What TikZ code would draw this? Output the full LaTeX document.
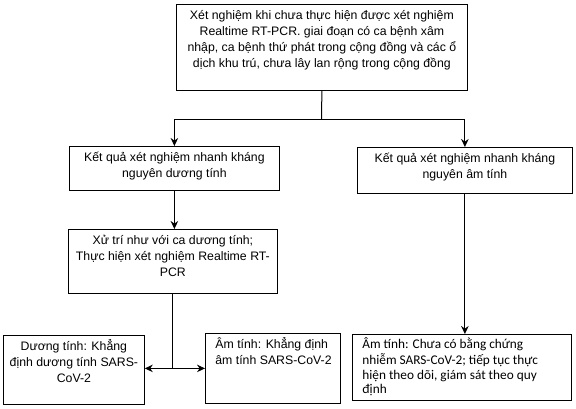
\documentclass[tikz,border=0pt]{standalone}
\usepackage{fontspec}
\setmainfont{Liberation Sans}
\newfontfamily\calfont{Carlito}
\usetikzlibrary{arrows.meta}
\newcommand{\cbox}[3]{\parbox[t][\dimexpr#2-7pt\relax][t]{#1}{\centering\strut#3}}
\newcommand{\lbox}[3]{\parbox[t][\dimexpr#2-7pt\relax][t]{#1}{\raggedright\leftskip=10pt\strut#3}}

\begin{document}
\begin{tikzpicture}[x=1pt,y=-1pt,
    box/.style={draw,line width=0.8pt,anchor=north west,inner xsep=0pt,inner ysep=3.5pt,
      font=\fontsize{12.3}{16}\selectfont},
    arr/.style={line width=1pt,-{Stealth[length=8pt,width=7.5pt]}}]
  \useasboundingbox (0,0) rectangle (576,408);

  \node[box] (test) at (176,4) {\cbox{291pt}{86pt}{Xét nghiệm khi chưa thực hiện được xét nghiệm\\
    Realtime RT-PCR. giai đoạn có ca bệnh xâm\\
    nhập, ca bệnh thứ phát trong cộng đồng và các ổ\\
    dịch khu trú, chưa lây lan rộng trong cộng đồng}};
  \node[box] (posrapid) at (69,146) {\cbox{210pt}{44pt}{Kết quả xét nghiệm nhanh kháng\\ nguyên dương tính}};
  \node[box] (negrapid) at (357,147) {\cbox{215pt}{46pt}{Kết quả xét nghiệm nhanh kháng\\ nguyên âm tính}};
  \node[box] (handle) at (68,229) {\cbox{209pt}{64pt}{Xử trí như với ca dương tính;\\
    Thực hiện xét nghiệm Realtime RT-\\ PCR}};
  \node[box] (confirmpos) at (3,335) {\cbox{141pt}{69pt}{Dương tính: Khẳng\\ định dương tính SARS-\\ CoV-2}};
  \node[box] (confirmneg) at (205,333) {\lbox{135pt}{70pt}{Âm tính: Khẳng định\\ âm tính SARS-CoV-2}};
  \node[box,font=\calfont\fontsize{13.3}{14.5}\selectfont] (monitor) at (352,334)
    {\lbox{219pt}{66pt}{Âm tính: Chưa có bằng chứng\\ nhiễm SARS-CoV-2; tiếp tục thực\\
    hiện theo dõi, giám sát theo quy\\ định}};

  \coordinate (split) at (321.5,119);
  \draw[line width=1pt] (test.south) -- (split);
  \draw[arr] (split) -| (posrapid.north);
  \draw[arr] (split) -| (negrapid.north);
  \draw[arr] (posrapid.south) -- (posrapid.south |- handle.north);
  \draw[line width=1pt] (handle.south) -- (handle.south |- confirmneg.west) coordinate (fork);
  \draw[arr] (fork) -- (fork -| confirmpos.east);
  \draw[arr] (fork) -- (confirmneg.west);
  \draw[arr] (negrapid.south) -- (negrapid.south |- monitor.north);
\end{tikzpicture}
\end{document}
